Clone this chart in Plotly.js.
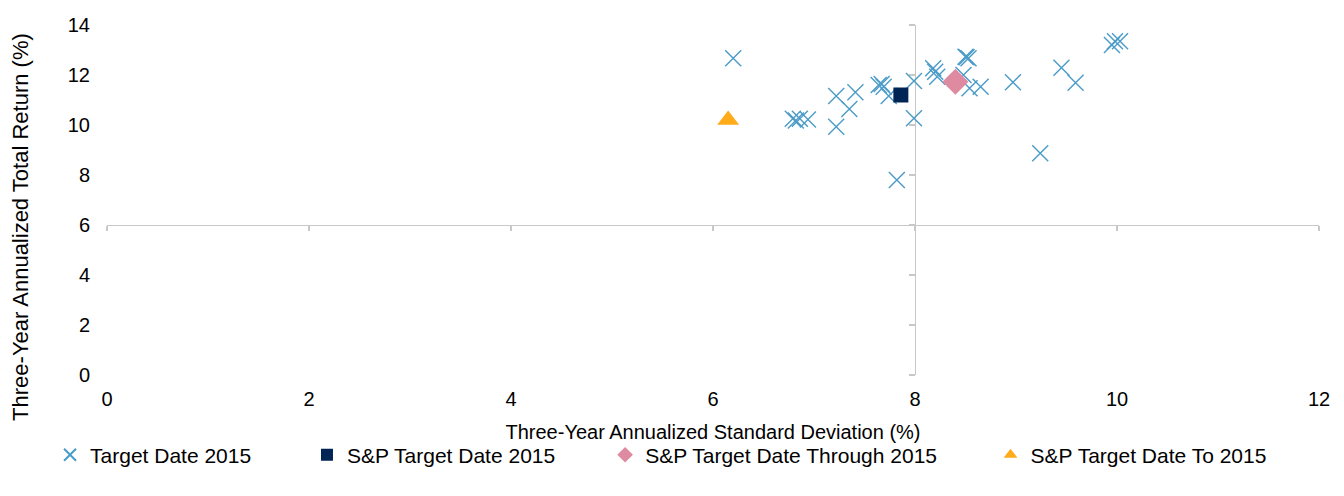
<!DOCTYPE html>
<html>
<head>
<meta charset="utf-8">
<script src="https://cdn.plot.ly/plotly-3.0.1.min.js"></script>
<style>html,body{margin:0;padding:0;background:#fff;}#chart{width:1344px;height:496px;}</style>
</head>
<body>
<div id="chart"></div>
<script>
// Target Date 2015 funds: three-year std dev (%) and return (%)
const tdX = [6.20, 6.79, 6.82, 6.86, 6.94, 7.22, 7.41, 7.35, 7.22, 7.64, 7.67, 7.69, 7.74, 7.82, 7.99, 7.99, 8.18, 8.20, 8.22, 8.50, 8.51, 8.53, 8.48, 8.54, 8.65, 8.97, 9.24, 9.45, 9.59, 9.95, 9.98, 10.03];
const tdY = [12.67, 10.25, 10.18, 10.25, 10.22, 11.16, 11.31, 10.64, 9.93, 11.60, 11.64, 11.53, 11.16, 7.80, 11.76, 10.27, 12.27, 12.13, 11.93, 12.73, 12.71, 12.67, 12.00, 11.47, 11.53, 11.71, 8.87, 12.29, 11.69, 13.20, 13.35, 13.35];
const spTDX = [7.86];
const spTDY = [11.20];
const spThroughX = [8.40];
const spThroughY = [11.73];
const spToX = [6.15];
const spToY = [10.20];

const xTicks = [0, 2, 4, 6, 8, 10, 12];
const yTicks = [0, 2, 4, 6, 8, 10, 12, 14];
const seriesNames = ['Target Date 2015', 'S&P Target Date 2015', 'S&P Target Date Through 2015', 'S&P Target Date To 2015'];
const xTitle = 'Three-Year Annualized Standard Deviation (%)';
const yTitle = 'Three-Year Annualized Total Return (%)';

const FONT = 'Liberation Sans, Arial, sans-serif';
const lineCol = '#C8C8C8';

const traces = [
  {x: tdX, y: tdY, type: 'scatter', mode: 'markers', name: seriesNames[0], legend: 'legend',
   marker: {symbol: 'x-thin-open', size: 16, color: '#4A9BC7', line: {color: '#4A9BC7', width: 1.4}}},
  {x: spTDX, y: spTDY, type: 'scatter', mode: 'markers', name: seriesNames[1], legend: 'legend2',
   marker: {symbol: 'square', size: 15, color: '#002554'}},
  {x: spThroughX, y: spThroughY, type: 'scatter', mode: 'markers', name: seriesNames[2], legend: 'legend3',
   marker: {symbol: 'diamond', size: 20, color: '#DE8AA1'}},
  {x: spToX, y: spToY, type: 'scatter', mode: 'markers', name: seriesNames[3], legend: 'legend4',
   marker: {symbol: 'triangle-up', size: 19, color: '#FFAB1A'}},
  // empty helper traces so the crossing axis lines get their subplots
  {x: [], y: [], type: 'scatter', mode: 'markers', xaxis: 'x2', yaxis: 'y', showlegend: false, hoverinfo: 'skip'},
  {x: [], y: [], type: 'scatter', mode: 'markers', xaxis: 'x', yaxis: 'y2', showlegend: false, hoverinfo: 'skip'}
];

const legBase = {orientation: 'h', xanchor: 'left', yanchor: 'middle', y: -0.229,
  font: {family: FONT, size: 21, color: '#000'}, itemsizing: 'constant', bgcolor: 'rgba(0,0,0,0)'};

const layout = {
  width: 1344, height: 496,
  margin: {l: 107, r: 25, t: 25, b: 121},
  paper_bgcolor: '#fff', plot_bgcolor: '#fff',
  font: {family: FONT, size: 20, color: '#000'},
  showlegend: true,
  xaxis: {range: [0, 12], tickvals: xTicks, ticktext: xTicks.map(String), showline: false, showgrid: false, zeroline: false,
    ticks: '', ticklabelstandoff: 10, tickfont: {family: FONT, size: 20, color: '#000'},
    title: {text: xTitle, font: {family: FONT, size: 20, color: '#000'}, standoff: 15},
    fixedrange: true},
  yaxis: {range: [0, 14], tickvals: yTicks, ticktext: yTicks.map(String), showline: false, showgrid: false, zeroline: false,
    ticks: '', ticklabelstandoff: 16, tickfont: {family: FONT, size: 20, color: '#000'},
    fixedrange: true},
  xaxis2: {overlaying: 'x', anchor: 'free', position: 6 / 14, side: 'bottom', range: [0, 12], tickvals: xTicks,
    showticklabels: false, showline: true, linecolor: lineCol, linewidth: 1.2, ticks: 'outside', ticklen: 5,
    tickcolor: lineCol, tickwidth: 1.2, showgrid: false, zeroline: false, layer: 'below traces', fixedrange: true},
  yaxis2: {overlaying: 'y', anchor: 'free', position: 8 / 12, side: 'left', range: [0, 14], tickvals: yTicks,
    showticklabels: false, showline: true, linecolor: lineCol, linewidth: 1.2, ticks: 'outside', ticklen: 6,
    tickcolor: lineCol, tickwidth: 1.2, showgrid: false, zeroline: false, layer: 'below traces', fixedrange: true},
  annotations: [{text: yTitle, xref: 'paper', yref: 'paper', x: -0.071, y: 0.423, xanchor: 'center', yanchor: 'middle',
    textangle: -90, showarrow: false, font: {family: FONT, size: 22, color: '#000'}}],
  legend: Object.assign({}, legBase, {x: -0.047}),
  legend2: Object.assign({}, legBase, {x: 0.165}),
  legend3: Object.assign({}, legBase, {x: 0.411}),
  legend4: Object.assign({}, legBase, {x: 0.729})
};

Plotly.newPlot('chart', traces, layout, {displayModeBar: false, staticPlot: true});
</script>
</body>
</html>
